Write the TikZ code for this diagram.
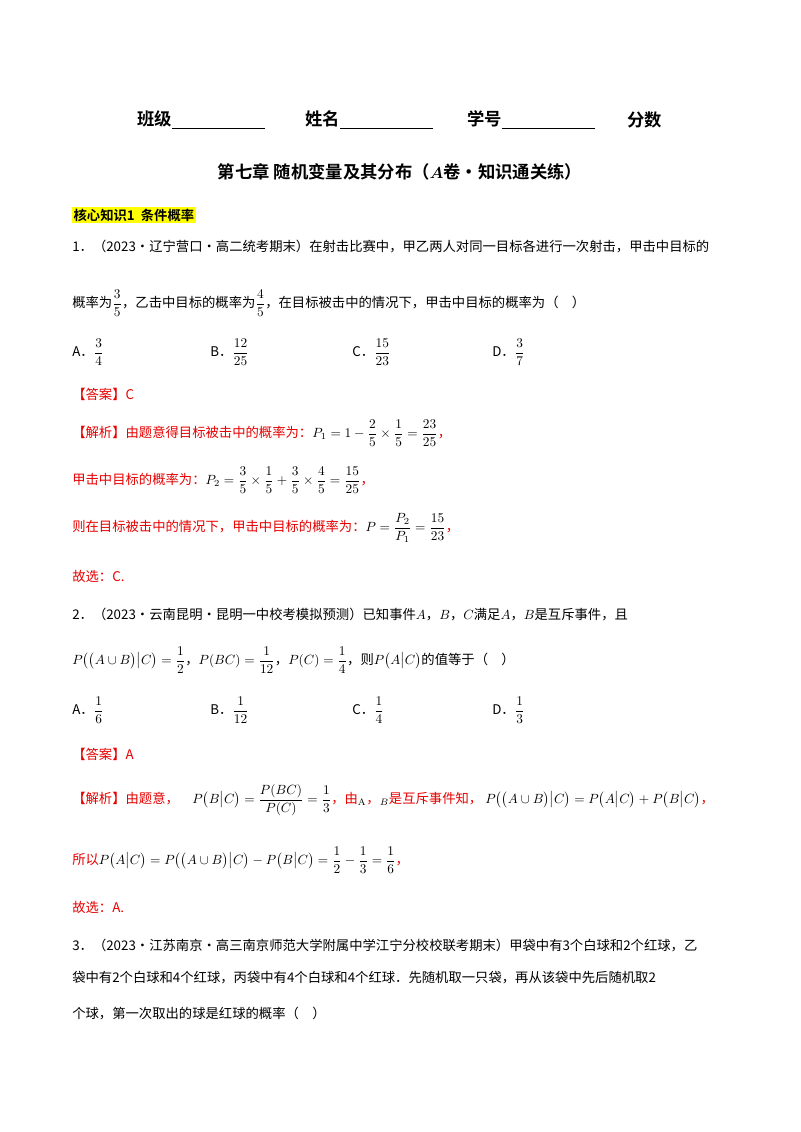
\documentclass[tikz,border=0pt]{standalone}
\usepackage{fontspec}
\usepackage{amsmath}
\newfontfamily\cjk{Noto Sans CJK SC}
\newfontfamily\cjkb{Noto Sans CJK SC Bold}
\definecolor{ansred}{RGB}{230,0,0}
\definecolor{hl}{RGB}{255,255,0}
\begin{document}
\begin{tikzpicture}[x=0.75pt,y=-0.75pt,
  txt/.style={anchor=west,inner sep=0pt,font=\cjk\fontsize{10}{12}\selectfont},
  red/.style={txt,text=ansred},
  opt/.style={anchor=west,inner sep=0pt,font=\cjk\fontsize{10}{12}\selectfont}]
\useasboundingbox (0,0) rectangle (800,1132);
% header
\node[txt,font=\cjkb\fontsize{13}{15}\selectfont] (h1) at (137,120) {班级\underline{\hspace{70pt}}};
\node[txt,font=\cjkb\fontsize{13}{15}\selectfont] (h2) at (305,120) {姓名\underline{\hspace{70pt}}};
\node[txt,font=\cjkb\fontsize{13}{15}\selectfont] (h3) at (467,120) {学号\underline{\hspace{70pt}}};
\node[txt,font=\cjkb\fontsize{13}{15}\selectfont] (h4) at (627,120) {分数};
\node[inner sep=0pt,font=\cjkb\fontsize{13}{15}\selectfont] (title) at (400,172) {第七章\ 随机变量及其分布（$\boldsymbol{A}$卷·知识通关练）};
\node[txt,fill=hl,inner sep=1pt,font=\cjkb\fontsize{10}{12}\selectfont] (sec) at (72,215) {核心知识1\ \ 条件概率};
% Q1
\node[txt] (q1a) at (72,247) {1．（2023·辽宁营口·高二统考期末）在射击比赛中，甲乙两人对同一目标各进行一次射击，甲击中目标的};
\node[txt] (q1b) at (72,303) {概率为$\dfrac{3}{5}$，乙击中目标的概率为$\dfrac{4}{5}$，在目标被击中的情况下，甲击中目标的概率为（\quad ）};
\node[opt] (o1a) at (72,352) {A．$\dfrac{3}{4}$};
\node[opt] (o1b) at (210,352) {B．$\dfrac{12}{25}$};
\node[opt] (o1c) at (352,352) {C．$\dfrac{15}{23}$};
\node[opt] (o1d) at (492,352) {D．$\dfrac{3}{7}$};
\node[red] (a1) at (72,394) {【答案】C};
\node[red] (s1a) at (72,433) {【解析】由题意得目标被击中的概率为：\textcolor{black}{$P_1=1-\dfrac{2}{5}\times\dfrac{1}{5}=\dfrac{23}{25}$}，};
\node[red] (s1b) at (72,480) {甲击中目标的概率为：\textcolor{black}{$P_2=\dfrac{3}{5}\times\dfrac{1}{5}+\dfrac{3}{5}\times\dfrac{4}{5}=\dfrac{15}{25}$}，};
\node[red] (s1c) at (72,528) {则在目标被击中的情况下，甲击中目标的概率为：\textcolor{black}{$P=\dfrac{P_2}{P_1}=\dfrac{15}{23}$}，};
\node[red] (s1d) at (72,576) {故选：C.};
% Q2
\node[txt] (q2a) at (72,614) {2．（2023·云南昆明·昆明一中校考模拟预测）已知事件$A$，$B$，$C$满足$A$，$B$是互斥事件，且};
\node[txt] (q2b) at (72,660) {$P\big(\big(A\cup B\big)\big|C\big)=\dfrac{1}{2}$，$P(BC)=\dfrac{1}{12}$，$P(C)=\dfrac{1}{4}$，则$P\big(A\big|C\big)$的值等于（\quad ）};
\node[opt] (o2a) at (72,710) {A．$\dfrac{1}{6}$};
\node[opt] (o2b) at (210,710) {B．$\dfrac{1}{12}$};
\node[opt] (o2c) at (352,710) {C．$\dfrac{1}{4}$};
\node[opt] (o2d) at (492,710) {D．$\dfrac{1}{3}$};
\node[red] (a2) at (72,754) {【答案】A};
\node[red] (s2a) at (72,800) {【解析】由题意，\quad\textcolor{black}{$P\big(B\big|C\big)=\dfrac{P(BC)}{P(C)}=\dfrac{1}{3}$}，由\textcolor{black}{$_{\mathrm{A}}$}，\textcolor{black}{$_{B}$}是互斥事件知，\ \textcolor{black}{$P\big(\big(A\cup B\big)\big|C\big)=P\big(A\big|C\big)+P\big(B\big|C\big)$}，};
\node[red] (s2b) at (72,860) {所以\textcolor{black}{$P\big(A\big|C\big)=P\big(\big(A\cup B\big)\big|C\big)-P\big(B\big|C\big)=\dfrac{1}{2}-\dfrac{1}{3}=\dfrac{1}{6}$}，};
\node[red] (s2c) at (72,907) {故选：A.};
% Q3
\node[txt] (q3a) at (72,945) {3．（2023·江苏南京·高三南京师范大学附属中学江宁分校校联考期末）甲袋中有3个白球和2个红球，乙};
\node[txt] (q3b) at (72,978) {袋中有2个白球和4个红球，丙袋中有4个白球和4个红球．先随机取一只袋，再从该袋中先后随机取2};
\node[txt] (q3c) at (72,1013) {个球，第一次取出的球是红球的概率（\quad ）};
\end{tikzpicture}
\end{document}
